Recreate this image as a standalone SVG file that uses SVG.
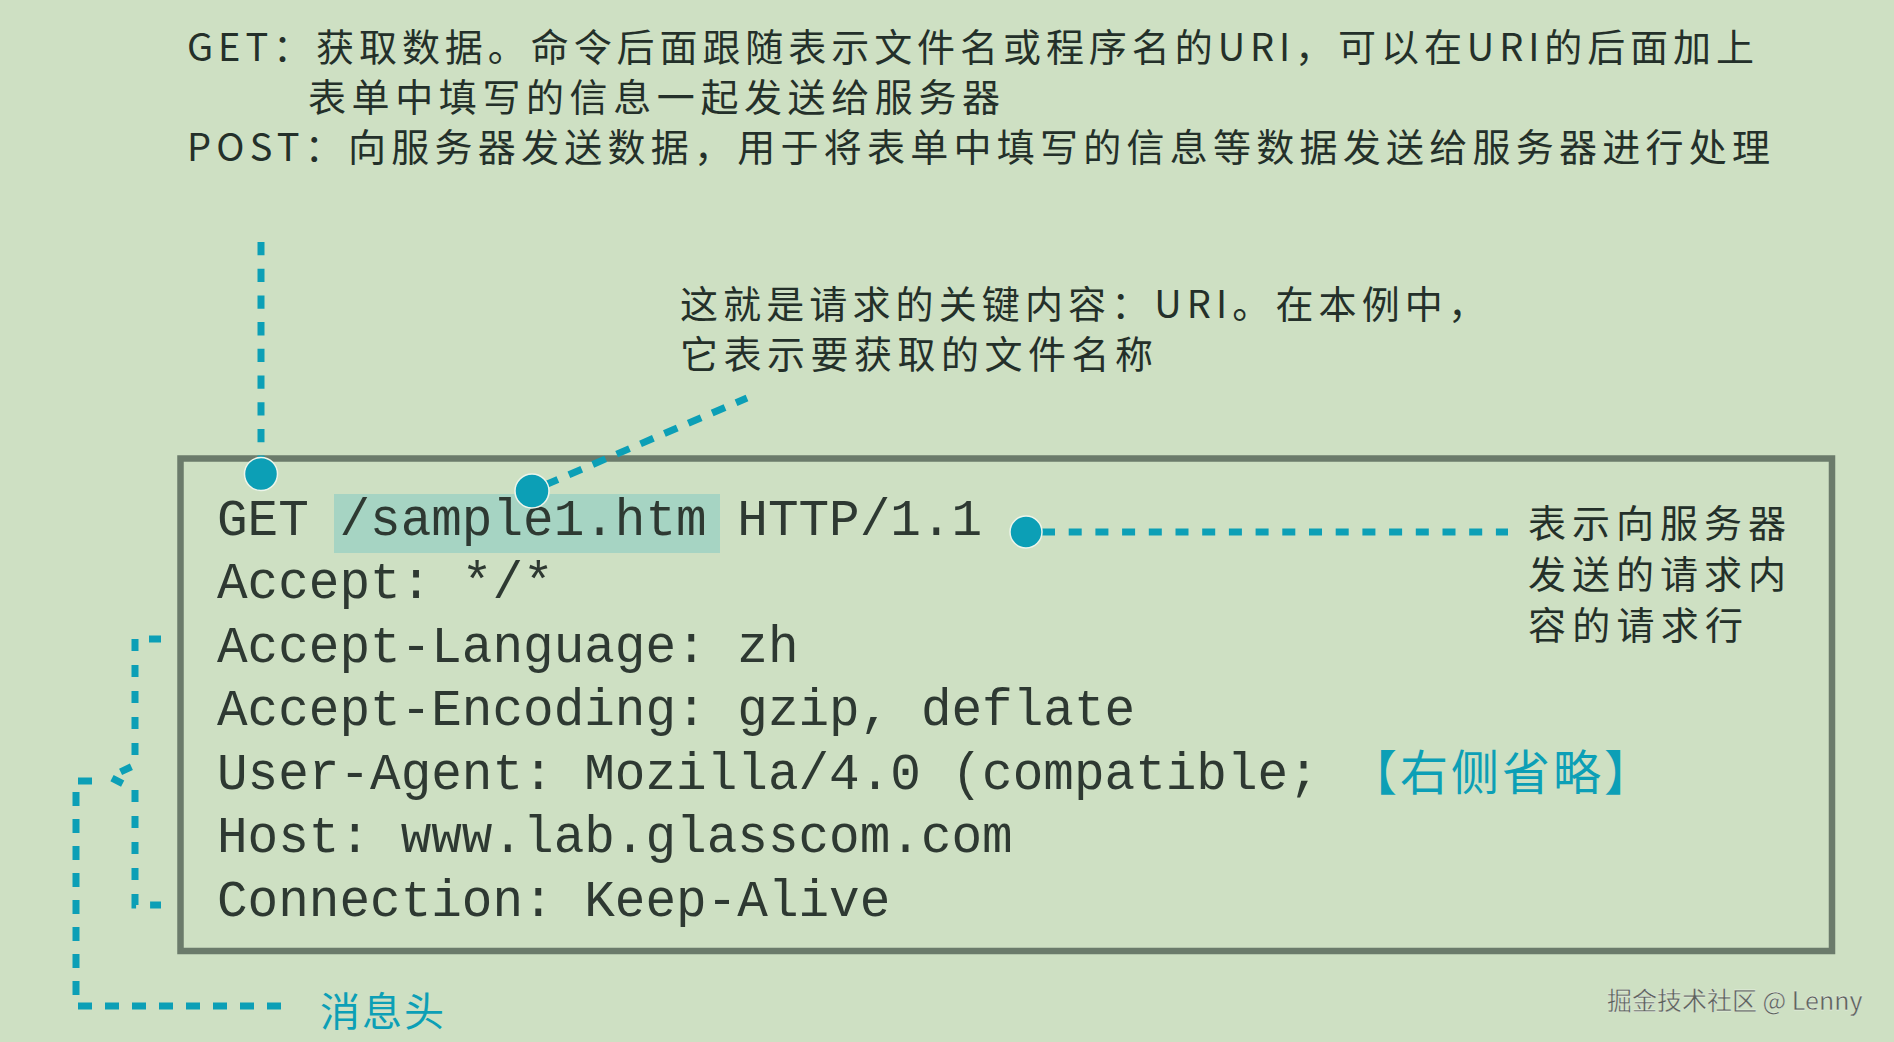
<svg xmlns="http://www.w3.org/2000/svg" width="1894" height="1042" viewBox="0 0 1894 1042">
<style>
.cjk{font-family:"Noto Sans CJK SC","Noto Sans",sans-serif;font-size:38px;fill:#24302a;}
.lbl{font-family:"Noto Sans CJK SC","Noto Sans",sans-serif;font-size:40px;}
.mono{font-family:"Liberation Mono","DejaVu Sans Mono",monospace;font-size:51px;fill:#2e3932;}
.teal{fill:#0c9fb6;}
.dash{fill:none;stroke:#0c9fb6;stroke-width:7;stroke-linecap:butt;}
.dot{fill:#0c9fb6;stroke:#eef5ea;stroke-width:1.5;}
</style>
<rect x="0" y="0" width="1894" height="1042" fill="#cee0c3"/>

<g id="methods">
<text class="cjk" x="187" y="61" textLength="1567" lengthAdjust="spacing">GET：获取数据。命令后面跟随表示文件名或程序名的URI，可以在URI的后面加上</text>
<text class="cjk" x="308" y="111" textLength="692" lengthAdjust="spacing">表单中填写的信息一起发送给服务器</text>
<text class="cjk" x="187" y="161" textLength="1583" lengthAdjust="spacing">POST：向服务器发送数据，用于将表单中填写的信息等数据发送给服务器进行处理</text>
</g>

<g id="uri-note">
<text class="cjk" x="680" y="318" textLength="806" lengthAdjust="spacing">这就是请求的关键内容：URI。在本例中，</text>
<text class="cjk" x="680" y="368" textLength="473" lengthAdjust="spacing">它表示要获取的文件名称</text>
</g>

<g id="request-line-note">
<text class="cjk" x="1528" y="537" textLength="258" lengthAdjust="spacing">表示向服务器</text>
<text class="cjk" x="1528" y="588" textLength="258" lengthAdjust="spacing">发送的请求内</text>
<text class="cjk" x="1528" y="639" textLength="215" lengthAdjust="spacing">容的请求行</text>
</g>

<g id="header-label">
<text class="lbl teal" x="320" y="1026" letter-spacing="2">消息头</text>
</g>

<g id="request-box">
<rect x="180.5" y="458.5" width="1651.5" height="492.5" fill="none" stroke="#6b7b6b" stroke-width="6.5"/>
<rect x="334" y="494" width="386" height="59" fill="#a6d4c3"/>
<text class="mono" x="217" y="535" xml:space="preserve">GET /sample1.htm HTTP/1.1</text>
<text class="mono" x="217" y="598">Accept: */*</text>
<text class="mono" x="217" y="662">Accept-Language: zh</text>
<text class="mono" x="217" y="725">Accept-Encoding: gzip, deflate</text>
<text class="mono" x="217" y="789" xml:space="preserve">User-Agent: Mozilla/4.0 (compatible;</text>
<text class="lbl teal" x="1349" y="790" style="font-size:48px" letter-spacing="3">【右侧省略】</text>
<text class="mono" x="217" y="852">Host: www.lab.glasscom.com</text>
<text class="mono" x="217" y="916">Connection: Keep-Alive</text>
</g>

<g id="connectors">
<line class="dash" x1="261" y1="242" x2="261" y2="458" stroke-dasharray="13.3 13.4"/>
<circle class="dot" cx="261" cy="474" r="16.5"/>
<line class="dash" x1="545" y1="485" x2="747" y2="398" stroke-width="9" stroke-dasharray="14 12"/>
<circle class="dot" cx="532" cy="491" r="17"/>
<line class="dash" x1="1042" y1="532" x2="1508" y2="532" stroke-dasharray="13 13.7"/>
<circle class="dot" cx="1026" cy="532" r="16"/>
<path class="dash" d="M161 639 H135 V765 L110 777 L135 790 V905 H161" stroke-dasharray="12 14"/>
<path class="dash" d="M92 781 H76 V1006 H294" stroke-dasharray="14 13"/>
</g>

<g id="watermark">
<text x="1607" y="1010" font-family="'Noto Sans CJK SC','Noto Sans',sans-serif" font-size="25" fill="#5b615a" stroke="#f4f8f2" stroke-width="0.3">掘金技术社区 @ Lenny</text>
</g>
</svg>
